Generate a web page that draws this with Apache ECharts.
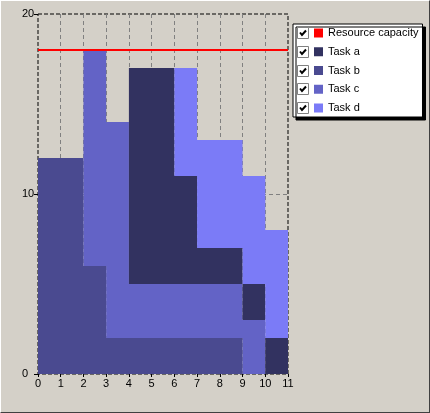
<!DOCTYPE html>
<html>
<head>
<meta charset="utf-8">
<script src="https://cdn.jsdelivr.net/npm/echarts@6/dist/echarts.min.js"></script>
<style>
html,body{margin:0;padding:0;background:#D4D0C8;}
#frame{position:absolute;left:0;top:0;width:430px;height:413px;box-sizing:border-box;border-top:1px solid #ffffff;border-left:1px solid #ffffff;border-right:1px solid #404040;border-bottom:1px solid #404040;}
#chart{position:absolute;left:0;top:0;width:430px;height:413px;}
</style>
</head>
<body>
<div id="chart"></div>
<div id="frame"></div>
<script>
// ---- data ----
const xLabels = ['0','1','2','3','4','5','6','7','8','9','10','11'];
const taskA = [0,0,0,0,12,12,6,2,2,2,2,2];
const taskB = [12,12,6,2,2,2,2,2,2,0,0,0];
const taskC = [0,0,12,12,3,3,3,3,3,3,0,0];
const taskD = [0,0,0,0,0,0,6,6,6,6,6,6];
const capacity = [18,18,18,18,18,18,18,18,18,18,18,18];
const legendNames = ['Resource capacity','Task a','Task b','Task c','Task d'];

const colors = {
  'Resource capacity':'#FF0000',
  'Task a':'#323260',
  'Task b':'#4A4A90',
  'Task c':'#6363C6',
  'Task d':'#7B7BF7'
};

function area(name, vals){
  return {
    name: name, type:'line', stack:'load', step:'end',
    data: vals,
    symbol:'none', showSymbol:false,
    color: colors[name],
    lineStyle:{width:0, color: colors[name]},
    areaStyle:{color: colors[name], opacity:1},
    emphasis:{disabled:true},
    z:2
  };
}

// legend layout
const LEG_LEFT = 293, LEG_TOP = 24, PAD_T = 2, ROW_H = 14, ROW_GAP = 4.75, PAD_L = 21;

const graphics = [];
legendNames.forEach((n,i)=>{
  const cy = LEG_TOP + PAD_T + ROW_H/2 + i*(ROW_H+ROW_GAP);
  const bx = LEG_LEFT + 4.5, by = Math.round(cy) - 5.5;
  graphics.push({type:'rect', z:100, zlevel:0, shape:{x:bx,y:by,width:11,height:11},
    style:{fill:'#ffffff', stroke:'#808080', lineWidth:1}});
  graphics.push({type:'polyline', z:101, shape:{points:[[bx+2.5,by+5],[bx+4.5,by+7.5],[bx+8.5,by+3]]},
    style:{stroke:'#000000', lineWidth:2, fill:null}});
});

const chart = echarts.init(document.getElementById('chart'), null, {renderer:'canvas'});
chart.setOption({
  animation:false,
  backgroundColor:'#D4D0C8',
  textStyle:{fontFamily:'Liberation Sans, Arial, sans-serif'},
  grid:{left:38, right:142, top:14, bottom:39, show:true, backgroundColor:'transparent',
        borderColor:'#000000', borderWidth:1, borderType:'dashed'},
  xAxis:{
    type:'category', data: xLabels, boundaryGap:false,
    axisLine:{show:false},
    axisTick:{show:true, length:3, interval:0, lineStyle:{color:'#000'}},
    axisLabel:{color:'#000', fontSize:11, margin:4, interval:0},
    splitLine:{show:true, interval:0, showMinLine:false, showMaxLine:false, lineStyle:{color:'#808080', type:[4,3], width:1}}
  },
  yAxis:{
    type:'value', min:0, max:20, interval:10,
    axisLine:{show:false},
    axisTick:{show:true, length:4, lineStyle:{color:'#000'}},
    axisLabel:{color:'#000', fontSize:11, margin:16, align:'left'},
    splitLine:{show:true, showMinLine:false, showMaxLine:false, lineStyle:{color:'#808080', type:[4,3], width:1}}
  },
  legend:{
    data: legendNames,
    orient:'vertical', left: LEG_LEFT, top: LEG_TOP,
    icon:'rect', itemWidth:9, itemHeight:9, itemGap: ROW_GAP,
    padding:[PAD_T, 4, PAD_T, PAD_L],
    backgroundColor:'#ffffff', borderColor:'#000000', borderWidth:1,
    shadowColor:'#000000', shadowOffsetX:3, shadowOffsetY:3, shadowBlur:0,
    selectedMode:false,
    textStyle:{color:'#000', fontSize:11, lineHeight:ROW_H, fontFamily:'Liberation Sans, Arial, sans-serif'},
    itemStyle:{borderWidth:0}
  },
  graphic: graphics,
  series:[
    area('Task b', taskB),
    area('Task c', taskC),
    area('Task a', taskA),
    area('Task d', taskD),
    {
      name:'Resource capacity', type:'line',
      data: capacity,
      symbol:'none', color: colors['Resource capacity'],
      lineStyle:{width:2, color: colors['Resource capacity']},
      emphasis:{disabled:true}, z:5
    }
  ]
});
</script>
</body>
</html>
